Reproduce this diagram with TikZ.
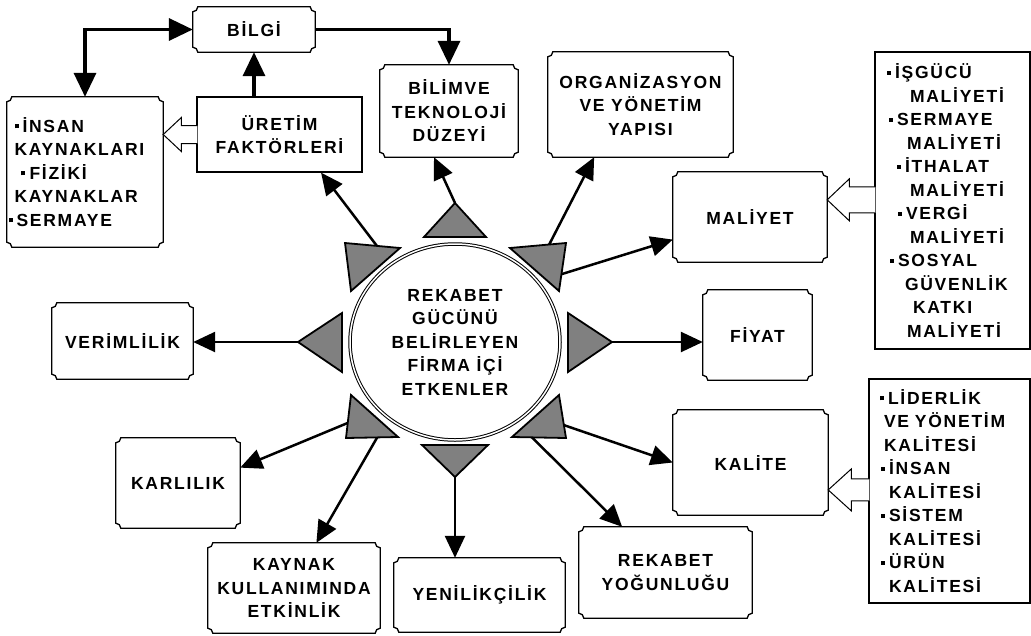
\documentclass[tikz,border=0pt]{standalone}
\usepackage{fontspec}
\setmainfont{Liberation Sans}[LetterSpace=10]
\usetikzlibrary{calc,shapes.geometric,arrows.meta}

\newcommand{\kare}{\rule[4pt]{4pt}{4pt}\hspace{4pt}}

\begin{document}
\begin{tikzpicture}[x=1pt,y=-1pt,
  every node/.style={font=\bfseries\fontsize{17.5}{23.5}\selectfont,align=center,inner sep=0pt},
  duz/.style={draw,line width=1.3pt},
  ucgen/.style={draw,line width=1.8pt,fill=black!50,line join=miter},
  ok/.style={line width=2.5pt,-{Triangle[length=22pt,width=20pt]}},
  kalin/.style={line width=3.5pt,>={Triangle[length=24pt,width=22pt]}},
  blok/.style={draw,line width=1pt,fill=white}]
  \useasboundingbox (0,0) rectangle (1031,635);

  \node[minimum width=122pt,minimum height=45pt] (bilgi) at (254,29.5) {BİLGİ};
  \node[align=left,text width=141pt,inner xsep=7.5pt,minimum height=150pt] (insan) at (85,172)
    {\kare İNSAN\\KAYNAKLARI\\\hspace*{7pt}\kare FİZİKİ\\KAYNAKLAR\\\hspace*{-6pt}\kare SERMAYE};
  \node[duz,minimum width=165pt,minimum height=75pt] (uretim) at (279.5,134.5) {ÜRETİM\\FAKTÖRLERİ};
  \node[minimum width=138pt,minimum height=92pt] (bilim) at (449,111) {BİLİMVE\\TEKNOLOJİ\\DÜZEYİ};
  \node[minimum width=185pt,minimum height=105pt] (org) at (640.5,104.5) {ORGANİZASYON\\VE YÖNETİM\\YAPISI};
  \node[minimum width=154pt,minimum height=90pt] (maliyet) at (750,217) {MALİYET};
  \node[duz,align=left,text width=131pt,inner xsep=12pt,minimum height=297pt] (mlist) at (952.5,200.5)
    {\kare İŞGÜCÜ\\\hspace*{23pt}MALİYETİ\\\hspace*{2pt}\kare SERMAYE\\\hspace*{20pt}MALİYETİ\\
     \hspace*{10pt}\kare İTHALAT\\\hspace*{23pt}MALİYETİ\\\hspace*{11pt}\kare VERGİ\\\hspace*{23pt}MALİYETİ\\
     \hspace*{3pt}\kare SOSYAL\\\hspace*{18pt}GÜVENLİK\\\hspace*{26pt}KATKI\\\hspace*{20pt}MALİYETİ};
  \node[minimum width=109pt,minimum height=90pt] (fiyat) at (757.5,335) {FİYAT};
  \node[duz,align=left,text width=139pt,inner xsep=11pt,minimum height=224pt] (klist) at (949.5,491)
    {\kare LİDERLİK\\\hspace*{4pt}VE YÖNETİM\\\hspace*{4pt}KALİTESİ\\\hspace*{1pt}\kare İNSAN\\
     \hspace*{9pt}KALİTESİ\\\hspace*{1pt}\kare SİSTEM\\\hspace*{9pt}KALİTESİ\\\hspace*{1pt}\kare ÜRÜN\\
     \hspace*{9pt}KALİTESİ};
  \node[minimum width=155pt,minimum height=105pt] (kalite) at (750.5,462.5) {KALİTE};
  \node[minimum width=173pt,minimum height=91pt] (ryog) at (665.5,572.5) {REKABET\\YOĞUNLUĞU};
  \node[minimum width=171pt,minimum height=74pt] (yeni) at (479.5,595) {YENİLİKÇİLİK};
  \node[minimum width=172pt,minimum height=90pt] (kaynak) at (294,588) {KAYNAK\\KULLANIMINDA\\ETKİNLİK};
  \node[minimum width=124pt,minimum height=90pt] (karli) at (178,483) {KARLILIK};
  \node[minimum width=141pt,minimum height=76pt] (verim) at (122.5,341) {VERİMLİLİK};

  \node[ellipse,draw,double,double distance=1.5pt,line width=1pt,minimum width=210pt,minimum height=196pt]
    (merkez) at (455,342) {REKABET\\GÜCÜNÜ\\BELİRLEYEN\\FİRMA İÇİ\\ETKENLER};

  \foreach \k in {bilgi,insan,bilim,org,maliyet,fiyat,kalite,ryog,yeni,kaynak,karli,verim}
    \draw[line width=1.3pt] ($(\k.north west)+(5pt,0)$) -- ($(\k.north east)+(-5pt,0)$)
      arc[start angle=180,end angle=270,radius=5pt] -- ($(\k.south east)+(0,5pt)$)
      arc[start angle=90,end angle=180,radius=5pt] -- ($(\k.south west)+(5pt,0)$)
      arc[start angle=0,end angle=90,radius=5pt] -- ($(\k.north west)+(0,-5pt)$)
      arc[start angle=270,end angle=360,radius=5pt] -- cycle;

  \foreach \t/\ax/\ay/\bx/\by/\cx/\cy in {tN/0/-139/-31/-105/31/-105, tS/0/135/-33/103/33/103,
      tE/157/0/113/-29/113/30, tW/-157/0/-113/-29/-113/30,
      tNW/-110/-99/-55/-94/-104/-51, tNE/111/-99/55/-94/104/-51,
      tSW/-109/96/-57/95/-104/53, tSE/111/96/57/95/104/53} {
    \coordinate (\t-a) at ($(merkez)+(\ax,\ay)$);
    \coordinate (\t-b) at ($(merkez)+(\bx,\by)$);
    \coordinate (\t-c) at ($(merkez)+(\cx,\cy)$);
  }

  \draw[ok] ($(tNW-a)!0.58!(tNW-b)$) -- ($(uretim.south east)!0.25!(uretim.south west)$);
  \draw[ok] (tN-a) -- ($(bilim.south)+(-15,0)$);
  \draw[ok] ($(tNE-a)!0.3!(tNE-b)$) -- ($(org.south west)!0.25!(org.south east)$);
  \draw[ok] ($(tNE-a)!0.65!(tNE-c)$) -- ($(maliyet.south west)!0.25!(maliyet.north west)$);
  \draw[ok] (tE-a) -- (tE-a -| fiyat.west);
  \draw[ok] ($(tSE-a)!0.3!(tSE-c)$) -- (kalite.west);
  \draw[ok] ($(tSE-a)!0.63!(tSE-b)$) -- ($(ryog.north west)!0.25!(ryog.north east)$);
  \draw[ok] (tS-a) -- (tS-a |- yeni.north);
  \draw[ok] ($(tSW-a)!0.6!(tSW-b)$) -- ($(kaynak.north west)!0.63!(kaynak.north east)$);
  \draw[ok] ($(tSW-a)!0.35!(tSW-c)$) -- ($(karli.north east)!0.33!(karli.south east)$);
  \draw[ok] (tW-a) -- (tW-a -| verim.east);

  \foreach \t in {tN,tS,tE,tW,tNW,tNE,tSW,tSE}
    \draw[ucgen] (\t-a) -- (\t-b) -- (\t-c) -- cycle;

  \draw[kalin,<->] (insan.north) |- (bilgi.west);
  \draw[kalin,->] (uretim.north -| bilgi.south) -- (bilgi.south);
  \draw[kalin,->] (bilgi.east) -| (bilim.north);

  \coordinate (u1) at (uretim.west);
  \draw[blok] ($(u1)+(1,-9)$) -- ($(u1)+(-15,-9)$) -- ($(u1)+(-15,-17)$) -- (insan.east |- u1)
    -- ($(u1)+(-15,17)$) -- ($(u1)+(-15,9)$) -- ($(u1)+(1,9)$);
  \coordinate (m1) at ($(maliyet.north east)!0.31!(maliyet.south east)$);
  \coordinate (m2) at (mlist.west |- m1);
  \draw[blok] ($(m2)+(1,-13)$) -- ($(m2)+(-25,-13)$) -- ($(m2)+(-25,-21)$) -- (m1)
    -- ($(m2)+(-25,21)$) -- ($(m2)+(-25,13)$) -- ($(m2)+(1,13)$);
  \coordinate (k1) at ($(kalite.north east)!0.76!(kalite.south east)$);
  \coordinate (k2) at (klist.west |- k1);
  \draw[blok] ($(k2)+(1,-11)$) -- ($(k2)+(-17,-11)$) -- ($(k2)+(-17,-21)$) -- (k1)
    -- ($(k2)+(-17,21)$) -- ($(k2)+(-17,11)$) -- ($(k2)+(1,11)$);
\end{tikzpicture}
\end{document}
